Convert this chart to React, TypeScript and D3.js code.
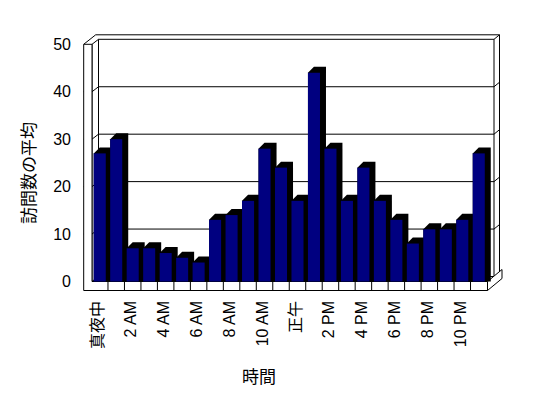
import React from "react";
import * as d3 from "d3";

const categories: string[] = [
  "真夜中", "1 AM", "2 AM", "3 AM", "4 AM", "5 AM", "6 AM", "7 AM", "8 AM", "9 AM", "10 AM", "11 AM",
  "正午", "1 PM", "2 PM", "3 PM", "4 PM", "5 PM", "6 PM", "7 PM", "8 PM", "9 PM", "10 PM", "11 PM",
];
const visits: number[] = [27, 30, 7, 7, 6, 5, 4, 13, 14, 17, 28, 24, 17, 44, 28, 17, 24, 17, 13, 8, 11, 11, 13, 27];
const shownLabels: string[] = ["真夜中", "2 AM", "4 AM", "6 AM", "8 AM", "10 AM", "正午", "2 PM", "4 PM", "6 PM", "8 PM", "10 PM"];
const yTicks: number[] = [0, 10, 20, 30, 40, 50];
const yTitle = "訪問数の平均";
const xTitle = "時間";

export default function App() {
  const W = 548, H = 398;
  const xl = 92, xr = 487.5;
  const x = d3.scaleBand<string>().domain(categories).range([xl - 0.5, xr - 0.5]).paddingInner(0.27).paddingOuter(0.135);
  const y = d3.scaleLinear().domain([0, 50]).range([281.5, 44.3]);
  const y0 = y(0), yTop = y(50);
  const wallOuterX = 83.7;
  const d1 = { x: 6.5, y: -5 };
  const d2 = { x: 12, y: -9.5 };
  const floorBottom = 290.5;
  const fd = { x: 14.5, y: -12 };
  const bd = { x: 6, y: -6 };
  const step = x.step();
  const bandStart = x.range()[0];
  const font = "'Liberation Sans', Arial, 'Noto Sans CJK JP', sans-serif";
  const cjk = "'Noto Sans CJK JP', sans-serif";
  const ln = { stroke: "#000", strokeWidth: 1, fill: "none" } as const;

  const floorSlope = fd.y / fd.x;
  const innerRightBottom = (xr) ;
  const grid = yTicks.filter((v) => v > 0 && v < 50);

  return (
    <svg width={W} height={H} style={{ position: "absolute", left: 0, top: 0, background: "#fff" }}>
      <rect x={0} y={0} width={W} height={H} fill="#fff" />
      {/* back wall inner face */}
      <polygon
        points={[
          [xl + d1.x, yTop + d1.y], [xr + d1.x, yTop + d1.y], [xr + d1.x, y0 + d1.y], [xl + d1.x, y0 + d1.y],
        ].map((p) => p.join(",")).join(" ")}
        fill="#fff" stroke="#000"
      />
      {/* back wall top outer line */}
      <path d={`M${wallOuterX},${yTop} L${wallOuterX + d2.x},${yTop + d2.y} H${xr + d2.x} L${xr + d1.x},${yTop + d1.y}`} {...ln} />
      <path d={`M${xl},${yTop} L${xl + d1.x},${yTop + d1.y}`} {...ln} />
      {/* back wall right end */}
      <path d={`M${xr + d2.x},${yTop + d2.y} V${y0 + (xr + d2.x - xr) * floorSlope}`} {...ln} />
      {/* left wall inner face */}
      <path d={`M${xl},${yTop} V${y0}`} {...ln} />
      {/* gridlines */}
      {grid.map((v) => (
        <path key={v}
          d={`M${wallOuterX},${y(v)} H${xl} L${xl + d1.x},${y(v) + d1.y} H${xr + d1.x} L${xr + d2.x},${y(v) + d2.y}`}
          {...ln} />
      ))}
      {/* floor top & right */}
      <path d={`M${xl},${y0} L${xl + d1.x},${y0 + d1.y}`} {...ln} />
      <polygon
        points={[[xr, y0], [xr + fd.x, y0 + fd.y], [xr + fd.x, floorBottom + fd.y], [xr, floorBottom]].map((p) => p.join(",")).join(" ")}
        fill="#fff" stroke="#000"
      />
      {/* left wall front face + floor front face */}
      <path d={`M${wallOuterX},${yTop} H${xl} V${y0} H${xr} V${floorBottom} H${wallOuterX} Z`} fill="#fff" stroke="#000" />
      {d3.range(1, categories.length).map((k) => (
        <line key={k} x1={bandStart + k * step} x2={bandStart + k * step} y1={y0} y2={floorBottom} stroke="#000" />
      ))}
      {/* bars */}
      {visits.map((v, i) => {
        const bx0 = x(categories[i])!;
        const bx1 = bx0 + x.bandwidth();
        const yt = y(v);
        const pts = [
          [bx0, y0], [bx0, yt], [bx0 + bd.x, yt + bd.y], [bx1 + bd.x, yt + bd.y], [bx1 + bd.x, y0], [bx1, y0],
        ];
        return (
          <g key={i}>
            <polygon points={pts.map((p) => p.join(",")).join(" ")} fill="#000" />
            <rect x={bx0} y={yt} width={bx1 - bx0} height={y0 - yt} fill="#000080" />
          </g>
        );
      })}
      {/* y tick labels */}
      {yTicks.map((v) => (
        <text key={v} x={71} y={y(v)} textAnchor="end" dominantBaseline="central" fontFamily={font} fontSize={16}>{v}</text>
      ))}
      {/* category labels */}
      {shownLabels.map((lab) => {
        const cx = (x(lab) ?? 0) + x.bandwidth() / 2 - 2;
        return (
          <text key={lab} transform={`translate(${cx},301) rotate(-90)`} textAnchor="end" dominantBaseline="central"
            fontFamily={font} fontSize={16}>{lab}</text>
        );
      })}
      <text transform="translate(27.5,173) rotate(-90)" textAnchor="middle" dominantBaseline="central" fontFamily={cjk} fontSize={17}>{yTitle}</text>
      <text x={259} y={375} textAnchor="middle" dominantBaseline="central" fontFamily={cjk} fontSize={17}>{xTitle}</text>
    </svg>
  );
}
